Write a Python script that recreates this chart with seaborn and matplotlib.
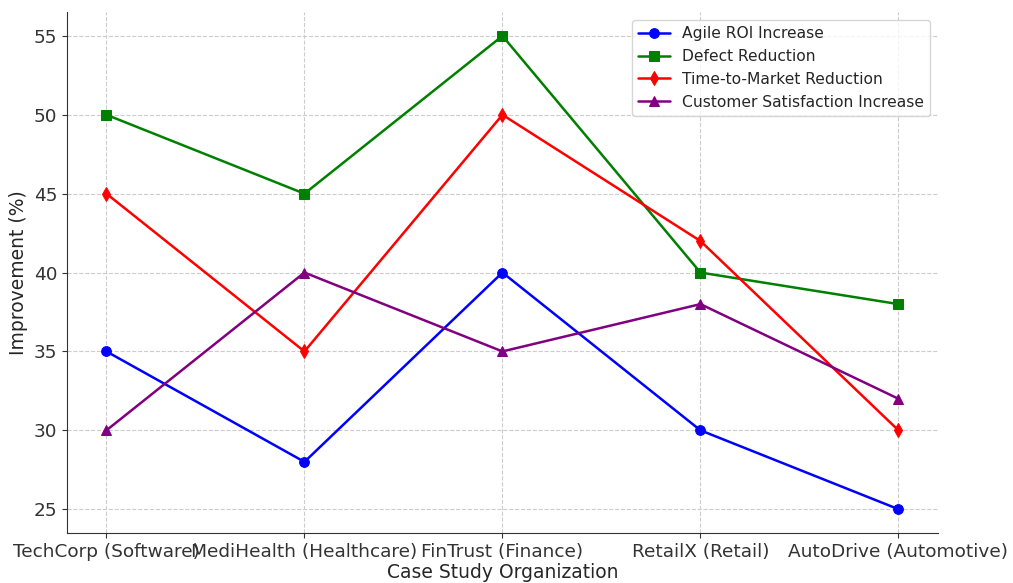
import matplotlib
matplotlib.use("Agg")
import matplotlib.pyplot as plt
import seaborn as sns
import pandas as pd

categories = ["TechCorp (Software)", "MediHealth (Healthcare)", "FinTrust (Finance)",
              "RetailX (Retail)", "AutoDrive (Automotive)"]
agile_roi = [35, 28, 40, 30, 25]
defect_reduction = [50, 45, 55, 40, 38]
time_to_market = [45, 35, 50, 42, 30]
customer_satisfaction = [30, 40, 35, 38, 32]

series = [
    ("Agile ROI Increase", agile_roi, "blue", "o"),
    ("Defect Reduction", defect_reduction, "green", "s"),
    ("Time-to-Market Reduction", time_to_market, "red", "d"),
    ("Customer Satisfaction Increase", customer_satisfaction, "purple", "^"),
]

sns.set_style("ticks")
plt.rcParams["font.family"] = ["DejaVu Sans"]

fig, ax = plt.subplots(figsize=(10.13, 5.83), dpi=100)
for name, vals, color, marker in series:
    df = pd.DataFrame({"org": categories, "val": vals})
    sns.lineplot(data=df, x="org", y="val", ax=ax, color=color, marker=marker,
                 markersize=7, markeredgecolor=color, linewidth=1.8, label=name, sort=False)

ax.grid(True, linestyle="--", color="#cccccc", linewidth=0.8)
ax.set_xlabel("Case Study Organization", fontsize=13.5, labelpad=2)
ax.set_ylabel("Improvement (%)", fontsize=13.5)
ax.tick_params(axis="both", labelsize=13.3, colors="#333333")
for s in ["top", "right"]:
    ax.spines[s].set_visible(False)
for s in ["left", "bottom"]:
    ax.spines[s].set_color("#333333")
ax.legend(loc="upper right", fontsize=11.2)

fig.subplots_adjust(left=0.066, right=0.926, top=0.979, bottom=0.086)
fig.savefig("out.png", dpi=100)
